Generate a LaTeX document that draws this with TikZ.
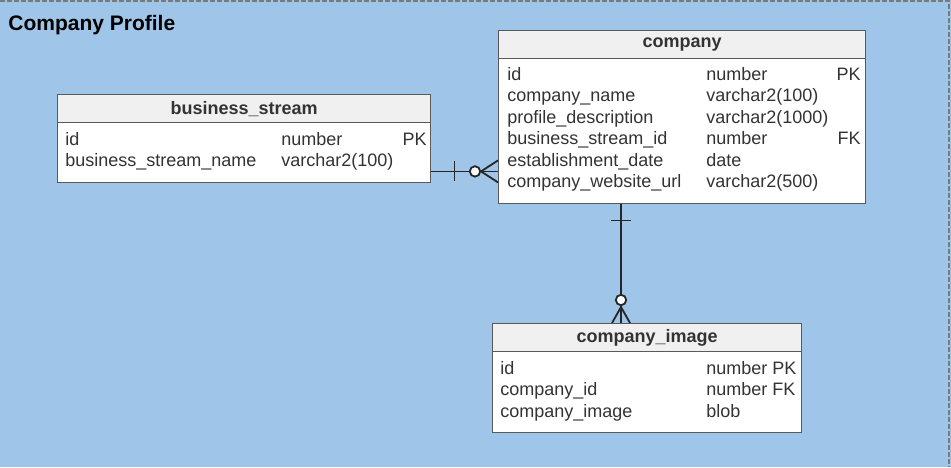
\documentclass[tikz,border=0pt]{standalone}
\usepackage{fontspec}
\setmainfont{Liberation Sans}
\usetikzlibrary{positioning}
\definecolor{groupblue}{HTML}{9FC5E8}
\definecolor{headgray}{HTML}{F0F0F0}
\definecolor{linegray}{HTML}{5A5A5A}
\definecolor{textgray}{HTML}{333333}
\definecolor{dashgray}{HTML}{7A7A7A}

\begin{document}
\begin{tikzpicture}[x=0.5pt, y=-0.5pt,
    font=\fontsize{9}{11}\selectfont,
    table/.style={draw=linegray, fill=white, line width=0.7pt, anchor=north west, inner sep=0pt},
    tablehead/.style={draw=linegray, fill=headgray, line width=0.7pt, anchor=north west,
        inner sep=0pt, minimum height=14pt, font=\fontsize{9}{11}\selectfont\bfseries, text=textgray},
    field/.style={anchor=base west, inner sep=0pt, text=textgray},
    keyfield/.style={anchor=base east, inner sep=0pt, text=textgray},
    rel/.style={line width=0.9pt, draw=black!85}]
    \useasboundingbox (0,0) rectangle (951,467);
    \fill[groupblue] (0,0) rectangle (951,467);
    \draw[dashgray, line width=1pt, dash pattern=on 2.5pt off 1pt] (0,1) -- (949,1) -- (949,467);
    \node[anchor=base west, inner sep=0pt, font=\fontsize{10.5}{12}\selectfont\bfseries] (title) at (8,30) {Company Profile};

    % business_stream
    \node[table, minimum width=186.5pt, minimum height=44pt] (bs) at (57,94) {};
    \node[tablehead, minimum width=186.5pt] (bshead) at (57,94) {business\_stream};
    \node[field] (bsid) at (65,145) {id};
    \node[field] (bsname) at (65,166) {business\_stream\_name};
    \node[field] (bsidtype) at (281,145) {number};
    \node[field] (bsnametype) at (281,166) {varchar2(100)};
    \node[keyfield] (bsidkey) at (427,145) {PK};

    % company
    \node[table, minimum width=183.5pt, minimum height=86.5pt] (co) at (498,30) {};
    \node[tablehead, minimum width=183.5pt] (cohead) at (498,30) {company};
    \node[field] (coid) at (507,80) {id};
    \node[field] (coname) at (507,101.5) {company\_name};
    \node[field] (codesc) at (507,123) {profile\_description};
    \node[field] (cobsid) at (507,144.5) {business\_stream\_id};
    \node[field] (codate) at (507,166) {establishment\_date};
    \node[field] (courl) at (507,187.5) {company\_website\_url};
    \node[field] (coidtype) at (706,80) {number};
    \node[field] (conametype) at (706,101.5) {varchar2(100)};
    \node[field] (codesctype) at (706,123) {varchar2(1000)};
    \node[field] (cobsidtype) at (706,144.5) {number};
    \node[field] (codatetype) at (706,166) {date};
    \node[field] (courltype) at (706,187.5) {varchar2(500)};
    \node[keyfield] (coidkey) at (861,80) {PK};
    \node[keyfield] (cobsidkey) at (861,144.5) {FK};

    % company_image
    \node[table, minimum width=154.5pt, minimum height=54.5pt] (img) at (492,323) {};
    \node[tablehead, minimum width=154.5pt] (imghead) at (492,323) {company\_image};
    \node[field] (imgid) at (500,374) {id};
    \node[field] (imgcoid) at (500,395.5) {company\_id};
    \node[field] (imgimage) at (500,417) {company\_image};
    \node[field] (imgidtype) at (706,374) {number PK};
    \node[field] (imgcoidtype) at (706,395.5) {number FK};
    \node[field] (imgimagetype) at (706,417) {blob};

    % business_stream 1 -- 0..n company
    \coordinate (bsout) at ([yshift=6pt]bs.south east);
    \coordinate (coin) at (bsout -| co.west);
    \draw[rel] (bsout) -- (coin);
    \draw[rel] ([xshift=11.5pt]bsout) ++(0,-10) -- ++(0,20);
    \draw[rel] (coin) ++(-17,0) -- ++(17,-11);
    \draw[rel] (coin) ++(-17,0) -- ++(17,11);
    \draw[rel, fill=white] ([xshift=-11.5pt]coin) circle[radius=2.6pt];

    % company 1 -- 0..n company_image
    \coordinate (coout) at ([xshift=61.5pt]co.south west);
    \coordinate (imgin) at (coout |- img.north);
    \draw[rel] (coout) -- (imgin);
    \draw[rel] ([yshift=-8pt]coout) ++(-10,0) -- ++(20,0);
    \draw[rel] (imgin) ++(0,-16) -- ++(-9,16);
    \draw[rel] (imgin) ++(0,-16) -- ++(9,16);
    \draw[rel, fill=white] ([yshift=11.5pt]imgin) circle[radius=2.6pt];
\end{tikzpicture}
\end{document}
